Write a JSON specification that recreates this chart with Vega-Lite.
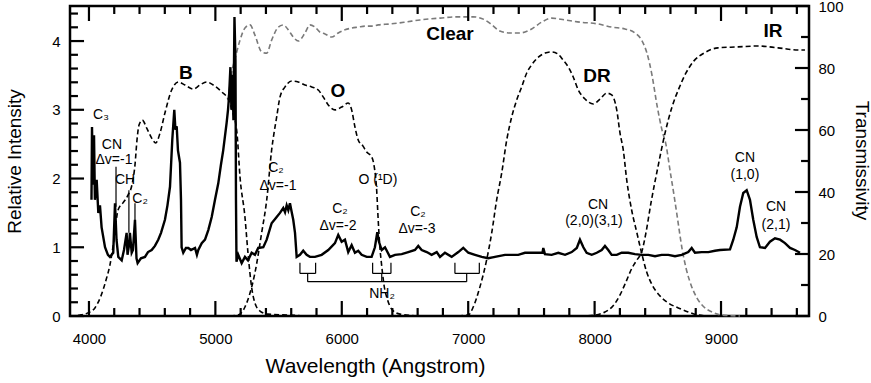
{
  "$schema": "https://vega.github.io/schema/vega-lite/v6.json",
  "width": 739,
  "height": 310,
  "autosize": {"type": "none"},
  "padding": {"left": 70, "top": 6, "right": 62, "bottom": 67},
  "background": "white",
  "config": {
    "view": {"stroke": "black", "strokeWidth": 2.5},
    "axis": {
      "domain": false, "grid": false, "ticks": false,
      "labelFont": "Liberation Sans", "labelFontSize": 15, "labelColor": "black",
      "labelOverlap": false, "labelFlush": false, "labelBound": false,
      "titleFont": "Liberation Sans", "titleFontSize": 19, "titleFontWeight": "normal", "titleColor": "black"
    },
    "text": {"font": "Liberation Sans", "fontSize": 14, "color": "black"},
    "rule": {"color": "black"}
  },
  "datasets": {
    "ticks": [
      {"w1":4000,"w2":4000,"v1":0,"v2":0.218},{"w1":4200,"w2":4200,"v1":0,"v2":0.116},{"w1":4400,"w2":4400,"v1":0,"v2":0.116},{"w1":4600,"w2":4600,"v1":0,"v2":0.116},{"w1":4800,"w2":4800,"v1":0,"v2":0.116},
      {"w1":5000,"w2":5000,"v1":0,"v2":0.218},{"w1":5200,"w2":5200,"v1":0,"v2":0.116},{"w1":5400,"w2":5400,"v1":0,"v2":0.116},{"w1":5600,"w2":5600,"v1":0,"v2":0.116},{"w1":5800,"w2":5800,"v1":0,"v2":0.116},
      {"w1":6000,"w2":6000,"v1":0,"v2":0.218},{"w1":6200,"w2":6200,"v1":0,"v2":0.116},{"w1":6400,"w2":6400,"v1":0,"v2":0.116},{"w1":6600,"w2":6600,"v1":0,"v2":0.116},{"w1":6800,"w2":6800,"v1":0,"v2":0.116},
      {"w1":7000,"w2":7000,"v1":0,"v2":0.218},{"w1":7200,"w2":7200,"v1":0,"v2":0.116},{"w1":7400,"w2":7400,"v1":0,"v2":0.116},{"w1":7600,"w2":7600,"v1":0,"v2":0.116},{"w1":7800,"w2":7800,"v1":0,"v2":0.116},
      {"w1":8000,"w2":8000,"v1":0,"v2":0.218},{"w1":8200,"w2":8200,"v1":0,"v2":0.116},{"w1":8400,"w2":8400,"v1":0,"v2":0.116},{"w1":8600,"w2":8600,"v1":0,"v2":0.116},{"w1":8800,"w2":8800,"v1":0,"v2":0.116},
      {"w1":9000,"w2":9000,"v1":0,"v2":0.218},{"w1":9200,"w2":9200,"v1":0,"v2":0.116},{"w1":9400,"w2":9400,"v1":0,"v2":0.116},{"w1":9600,"w2":9600,"v1":0,"v2":0.116},
      {"w1":4000,"w2":4000,"v1":4.51,"v2":4.292},{"w1":4200,"w2":4200,"v1":4.51,"v2":4.394},{"w1":4400,"w2":4400,"v1":4.51,"v2":4.394},{"w1":4600,"w2":4600,"v1":4.51,"v2":4.394},{"w1":4800,"w2":4800,"v1":4.51,"v2":4.394},
      {"w1":5000,"w2":5000,"v1":4.51,"v2":4.292},{"w1":5200,"w2":5200,"v1":4.51,"v2":4.394},{"w1":5400,"w2":5400,"v1":4.51,"v2":4.394},{"w1":5600,"w2":5600,"v1":4.51,"v2":4.394},{"w1":5800,"w2":5800,"v1":4.51,"v2":4.394},
      {"w1":6000,"w2":6000,"v1":4.51,"v2":4.292},{"w1":6200,"w2":6200,"v1":4.51,"v2":4.394},{"w1":6400,"w2":6400,"v1":4.51,"v2":4.394},{"w1":6600,"w2":6600,"v1":4.51,"v2":4.394},{"w1":6800,"w2":6800,"v1":4.51,"v2":4.394},
      {"w1":7000,"w2":7000,"v1":4.51,"v2":4.292},{"w1":7200,"w2":7200,"v1":4.51,"v2":4.394},{"w1":7400,"w2":7400,"v1":4.51,"v2":4.394},{"w1":7600,"w2":7600,"v1":4.51,"v2":4.394},{"w1":7800,"w2":7800,"v1":4.51,"v2":4.394},
      {"w1":8000,"w2":8000,"v1":4.51,"v2":4.292},{"w1":8200,"w2":8200,"v1":4.51,"v2":4.394},{"w1":8400,"w2":8400,"v1":4.51,"v2":4.394},{"w1":8600,"w2":8600,"v1":4.51,"v2":4.394},{"w1":8800,"w2":8800,"v1":4.51,"v2":4.394},
      {"w1":9000,"w2":9000,"v1":4.51,"v2":4.292},{"w1":9200,"w2":9200,"v1":4.51,"v2":4.394},{"w1":9400,"w2":9400,"v1":4.51,"v2":4.394},{"w1":9600,"w2":9600,"v1":4.51,"v2":4.394},
      {"w1":3850,"w2":3961,"v1":0,"v2":0},{"w1":3850,"w2":3913,"v1":0.2,"v2":0.2},{"w1":3850,"w2":3913,"v1":0.4,"v2":0.4},{"w1":3850,"w2":3913,"v1":0.6,"v2":0.6},{"w1":3850,"w2":3913,"v1":0.8,"v2":0.8},
      {"w1":3850,"w2":3961,"v1":1,"v2":1},{"w1":3850,"w2":3913,"v1":1.2,"v2":1.2},{"w1":3850,"w2":3913,"v1":1.4,"v2":1.4},{"w1":3850,"w2":3913,"v1":1.6,"v2":1.6},{"w1":3850,"w2":3913,"v1":1.8,"v2":1.8},
      {"w1":3850,"w2":3961,"v1":2,"v2":2},{"w1":3850,"w2":3913,"v1":2.2,"v2":2.2},{"w1":3850,"w2":3913,"v1":2.4,"v2":2.4},{"w1":3850,"w2":3913,"v1":2.6,"v2":2.6},{"w1":3850,"w2":3913,"v1":2.8,"v2":2.8},
      {"w1":3850,"w2":3961,"v1":3,"v2":3},{"w1":3850,"w2":3913,"v1":3.2,"v2":3.2},{"w1":3850,"w2":3913,"v1":3.4,"v2":3.4},{"w1":3850,"w2":3913,"v1":3.6,"v2":3.6},{"w1":3850,"w2":3913,"v1":3.8,"v2":3.8},
      {"w1":3850,"w2":3961,"v1":4,"v2":4},{"w1":3850,"w2":3913,"v1":4.2,"v2":4.2},{"w1":3850,"w2":3913,"v1":4.4,"v2":4.4},
      {"w1":9585,"w2":9696,"v1":0,"v2":0},{"w1":9633,"w2":9696,"v1":0.451,"v2":0.451},{"w1":9585,"w2":9696,"v1":0.902,"v2":0.902},{"w1":9633,"w2":9696,"v1":1.353,"v2":1.353},
      {"w1":9585,"w2":9696,"v1":1.804,"v2":1.804},{"w1":9633,"w2":9696,"v1":2.255,"v2":2.255},{"w1":9585,"w2":9696,"v1":2.706,"v2":2.706},{"w1":9633,"w2":9696,"v1":3.157,"v2":3.157},
      {"w1":9585,"w2":9696,"v1":3.608,"v2":3.608},{"w1":9633,"w2":9696,"v1":4.059,"v2":4.059},{"w1":9585,"w2":9696,"v1":4.51,"v2":4.51}
    ],
    "spectrum": [
      {"w":4020,"i":1.69},{"w":4024,"i":2.75},{"w":4032,"i":1.91},{"w":4040,"i":2.63},{"w":4047,"i":1.69},{"w":4061,"i":1.98},{"w":4074,"i":1.50},{"w":4087,"i":1.61},{"w":4100,"i":1.29},{"w":4127,"i":1.00},{"w":4150,"i":0.89},{"w":4166,"i":0.86},{"w":4192,"i":0.92},{"w":4206,"i":1.64},{"w":4218,"i":1.11},{"w":4232,"i":0.86},{"w":4259,"i":0.81},{"w":4277,"i":0.96},{"w":4298,"i":1.21},{"w":4305,"i":0.89},{"w":4317,"i":1.03},{"w":4324,"i":1.21},{"w":4338,"i":0.92},{"w":4348,"i":0.96},{"w":4364,"i":1.40},{"w":4376,"i":0.84},{"w":4385,"i":0.77},{"w":4411,"i":0.84},{"w":4443,"i":0.86},{"w":4467,"i":0.93},{"w":4496,"i":0.96},{"w":4522,"i":1.02},{"w":4548,"i":1.11},{"w":4570,"i":1.21},{"w":4601,"i":1.40},{"w":4621,"i":1.61},{"w":4641,"i":1.88},{"w":4659,"i":2.56},{"w":4675,"i":3.00},{"w":4684,"i":2.71},{"w":4694,"i":2.76},{"w":4704,"i":2.41},{"w":4720,"i":2.23},{"w":4728,"i":1.69},{"w":4733,"i":1.00},{"w":4746,"i":0.92},{"w":4767,"i":0.99},{"w":4786,"i":0.99},{"w":4807,"i":0.96},{"w":4839,"i":0.99},{"w":4854,"i":0.89},{"w":4865,"i":0.96},{"w":4892,"i":1.06},{"w":4918,"i":1.11},{"w":4944,"i":1.25},{"w":4971,"i":1.44},{"w":4997,"i":1.69},{"w":5023,"i":1.93},{"w":5044,"i":2.20},{"w":5062,"i":2.41},{"w":5089,"i":2.81},{"w":5100,"i":3.00},{"w":5108,"i":3.19},{"w":5119,"i":3.62},{"w":5127,"i":3.00},{"w":5135,"i":3.51},{"w":5143,"i":2.85},{"w":5151,"i":4.35},{"w":5159,"i":3.72},{"w":5163,"i":1.69},{"w":5167,"i":0.79},{"w":5181,"i":0.89},{"w":5208,"i":0.77},{"w":5234,"i":0.86},{"w":5258,"i":0.81},{"w":5287,"i":0.92},{"w":5313,"i":0.89},{"w":5339,"i":0.99},{"w":5379,"i":1.00},{"w":5406,"i":1.11},{"w":5445,"i":1.35},{"w":5485,"i":1.44},{"w":5511,"i":1.50},{"w":5537,"i":1.57},{"w":5551,"i":1.51},{"w":5564,"i":1.61},{"w":5577,"i":1.54},{"w":5590,"i":1.64},{"w":5604,"i":1.51},{"w":5616,"i":1.40},{"w":5630,"i":1.21},{"w":5643,"i":0.86},{"w":5669,"i":0.89},{"w":5695,"i":0.95},{"w":5722,"i":0.89},{"w":5748,"i":0.86},{"w":5788,"i":0.86},{"w":5841,"i":0.89},{"w":5893,"i":0.96},{"w":5946,"i":1.06},{"w":5972,"i":1.18},{"w":5999,"i":1.08},{"w":6025,"i":1.11},{"w":6051,"i":0.93},{"w":6078,"i":1.03},{"w":6104,"i":0.92},{"w":6130,"i":0.95},{"w":6157,"i":0.89},{"w":6197,"i":0.86},{"w":6236,"i":0.86},{"w":6262,"i":1.00},{"w":6281,"i":1.22},{"w":6294,"i":1.08},{"w":6316,"i":0.96},{"w":6342,"i":1.00},{"w":6381,"i":0.86},{"w":6421,"i":0.89},{"w":6474,"i":0.90},{"w":6526,"i":0.93},{"w":6579,"i":0.96},{"w":6605,"i":1.02},{"w":6632,"i":0.96},{"w":6672,"i":0.93},{"w":6711,"i":0.89},{"w":6751,"i":0.93},{"w":6777,"i":0.86},{"w":6816,"i":0.92},{"w":6869,"i":0.86},{"w":6922,"i":0.93},{"w":6961,"i":0.99},{"w":7001,"i":0.92},{"w":7054,"i":0.89},{"w":7107,"i":0.86},{"w":7159,"i":0.84},{"w":7212,"i":0.86},{"w":7291,"i":0.89},{"w":7344,"i":0.89},{"w":7396,"i":0.89},{"w":7449,"i":0.92},{"w":7502,"i":0.92},{"w":7554,"i":0.92},{"w":7588,"i":0.92},{"w":7594,"i":0.99},{"w":7607,"i":0.90},{"w":7660,"i":0.89},{"w":7713,"i":0.92},{"w":7766,"i":0.89},{"w":7819,"i":0.93},{"w":7859,"i":0.99},{"w":7884,"i":1.11},{"w":7911,"i":1.00},{"w":7937,"i":0.92},{"w":7977,"i":0.89},{"w":8017,"i":0.92},{"w":8056,"i":0.96},{"w":8082,"i":1.02},{"w":8108,"i":0.96},{"w":8135,"i":0.89},{"w":8175,"i":0.89},{"w":8214,"i":0.92},{"w":8266,"i":0.92},{"w":8319,"i":0.90},{"w":8372,"i":0.89},{"w":8425,"i":0.89},{"w":8478,"i":0.87},{"w":8530,"i":0.89},{"w":8583,"i":0.89},{"w":8636,"i":0.87},{"w":8689,"i":0.89},{"w":8741,"i":0.93},{"w":8768,"i":0.99},{"w":8794,"i":0.92},{"w":8847,"i":0.93},{"w":8900,"i":0.93},{"w":8952,"i":0.95},{"w":8992,"i":0.96},{"w":9071,"i":0.97},{"w":9097,"i":1.11},{"w":9124,"i":1.29},{"w":9150,"i":1.59},{"w":9176,"i":1.79},{"w":9203,"i":1.83},{"w":9229,"i":1.69},{"w":9255,"i":1.40},{"w":9282,"i":1.15},{"w":9308,"i":1.00},{"w":9348,"i":0.99},{"w":9387,"i":1.08},{"w":9427,"i":1.13},{"w":9467,"i":1.11},{"w":9506,"i":1.06},{"w":9546,"i":0.99},{"w":9585,"i":0.96},{"w":9625,"i":0.92}
    ],
    "filters": [
      {"f":"B","w":3850,"t":0},{"f":"B","w":3929,"t":0.3},{"f":"B","w":3992,"t":1},{"f":"B","w":4047,"t":2.6},{"f":"B","w":4095,"t":6.5},{"f":"B","w":4135,"t":11.6},{"f":"B","w":4166,"t":16.5},{"f":"B","w":4198,"t":24.5},{"f":"B","w":4230,"t":34.2},{"f":"B","w":4269,"t":36.5},{"f":"B","w":4309,"t":39},{"f":"B","w":4340,"t":42.3},{"f":"B","w":4364,"t":48.7},{"f":"B","w":4380,"t":56.8},{"f":"B","w":4396,"t":61.6},{"f":"B","w":4422,"t":63.2},{"f":"B","w":4457,"t":60.6},{"f":"B","w":4496,"t":57.4},{"f":"B","w":4528,"t":55.8},{"f":"B","w":4562,"t":59},{"f":"B","w":4601,"t":65.5},{"f":"B","w":4654,"t":72.9},{"f":"B","w":4707,"t":75.5},{"f":"B","w":4760,"t":74.5},{"f":"B","w":4825,"t":73.2},{"f":"B","w":4878,"t":74.5},{"f":"B","w":4931,"t":75.5},{"f":"B","w":4984,"t":74.5},{"f":"B","w":5050,"t":72.3},{"f":"B","w":5100,"t":70},{"f":"B","w":5139,"t":65.5},{"f":"B","w":5171,"t":59},{"f":"B","w":5195,"t":44.8},{"f":"B","w":5234,"t":31.9},{"f":"B","w":5258,"t":20.3},{"f":"B","w":5290,"t":8.4},{"f":"B","w":5313,"t":4.2},{"f":"B","w":5353,"t":1.6},{"f":"B","w":5416,"t":0.6},{"f":"B","w":5590,"t":0.3},{"f":"B","w":5700,"t":0},
      {"f":"O","w":5115,"t":0},{"f":"O","w":5179,"t":0.3},{"f":"O","w":5234,"t":2.9},{"f":"O","w":5274,"t":7.4},{"f":"O","w":5313,"t":13.9},{"f":"O","w":5366,"t":26.8},{"f":"O","w":5406,"t":37.4},{"f":"O","w":5445,"t":53.5},{"f":"O","w":5485,"t":64.2},{"f":"O","w":5511,"t":70.6},{"f":"O","w":5551,"t":73.9},{"f":"O","w":5604,"t":75.8},{"f":"O","w":5656,"t":75.5},{"f":"O","w":5709,"t":74.5},{"f":"O","w":5762,"t":73.9},{"f":"O","w":5814,"t":72.9},{"f":"O","w":5854,"t":70.6},{"f":"O","w":5893,"t":68.1},{"f":"O","w":5946,"t":66.5},{"f":"O","w":5999,"t":67.4},{"f":"O","w":6051,"t":68.7},{"f":"O","w":6078,"t":66.5},{"f":"O","w":6104,"t":61},{"f":"O","w":6130,"t":56.8},{"f":"O","w":6168,"t":54.8},{"f":"O","w":6197,"t":52.9},{"f":"O","w":6237,"t":51.3},{"f":"O","w":6257,"t":48.1},{"f":"O","w":6276,"t":40.6},{"f":"O","w":6288,"t":31},{"f":"O","w":6300,"t":22.9},{"f":"O","w":6315,"t":16.5},{"f":"O","w":6334,"t":10},{"f":"O","w":6362,"t":5.2},{"f":"O","w":6401,"t":1.9},{"f":"O","w":6460,"t":0.6},{"f":"O","w":6620,"t":0},
      {"f":"Clear","w":5100,"t":69.7},{"f":"Clear","w":5129,"t":78.4},{"f":"Clear","w":5163,"t":84.2},{"f":"Clear","w":5195,"t":89},{"f":"Clear","w":5234,"t":92.9},{"f":"Clear","w":5274,"t":93.9},{"f":"Clear","w":5313,"t":90.6},{"f":"Clear","w":5366,"t":85.2},{"f":"Clear","w":5406,"t":84.8},{"f":"Clear","w":5445,"t":89},{"f":"Clear","w":5498,"t":93.2},{"f":"Clear","w":5537,"t":93.9},{"f":"Clear","w":5577,"t":92.3},{"f":"Clear","w":5616,"t":90},{"f":"Clear","w":5656,"t":88.7},{"f":"Clear","w":5709,"t":91.3},{"f":"Clear","w":5748,"t":93.9},{"f":"Clear","w":5788,"t":93.2},{"f":"Clear","w":5827,"t":91.6},{"f":"Clear","w":5867,"t":91},{"f":"Clear","w":5920,"t":90},{"f":"Clear","w":5972,"t":91.3},{"f":"Clear","w":6025,"t":92.3},{"f":"Clear","w":6078,"t":92.9},{"f":"Clear","w":6130,"t":93.2},{"f":"Clear","w":6183,"t":93.5},{"f":"Clear","w":6236,"t":93.5},{"f":"Clear","w":6289,"t":93.9},{"f":"Clear","w":6381,"t":94.2},{"f":"Clear","w":6500,"t":94.8},{"f":"Clear","w":6619,"t":95.5},{"f":"Clear","w":6777,"t":96.1},{"f":"Clear","w":6911,"t":96.5},{"f":"Clear","w":7038,"t":96.5},{"f":"Clear","w":7133,"t":95.5},{"f":"Clear","w":7188,"t":93.9},{"f":"Clear","w":7251,"t":91.9},{"f":"Clear","w":7330,"t":91.3},{"f":"Clear","w":7410,"t":91.3},{"f":"Clear","w":7502,"t":92.6},{"f":"Clear","w":7581,"t":94.8},{"f":"Clear","w":7660,"t":96.1},{"f":"Clear","w":7766,"t":95.5},{"f":"Clear","w":7884,"t":94.8},{"f":"Clear","w":8029,"t":94.2},{"f":"Clear","w":8135,"t":93.2},{"f":"Clear","w":8240,"t":92.6},{"f":"Clear","w":8319,"t":91.3},{"f":"Clear","w":8372,"t":89},{"f":"Clear","w":8414,"t":84.8},{"f":"Clear","w":8454,"t":77.7},{"f":"Clear","w":8493,"t":68.1},{"f":"Clear","w":8533,"t":60},{"f":"Clear","w":8565,"t":55.2},{"f":"Clear","w":8596,"t":47.1},{"f":"Clear","w":8628,"t":39},{"f":"Clear","w":8660,"t":30.3},{"f":"Clear","w":8691,"t":21.9},{"f":"Clear","w":8723,"t":15.5},{"f":"Clear","w":8763,"t":10},{"f":"Clear","w":8810,"t":5.8},{"f":"Clear","w":8865,"t":2.9},{"f":"Clear","w":8929,"t":1.3},{"f":"Clear","w":9008,"t":0.3},{"f":"Clear","w":9150,"t":0},
      {"f":"DR","w":6856,"t":0},{"f":"DR","w":7001,"t":0.3},{"f":"DR","w":7040,"t":2.9},{"f":"DR","w":7093,"t":9.4},{"f":"DR","w":7146,"t":18.1},{"f":"DR","w":7186,"t":26.8},{"f":"DR","w":7225,"t":37.4},{"f":"DR","w":7265,"t":46.1},{"f":"DR","w":7305,"t":56.8},{"f":"DR","w":7344,"t":64.2},{"f":"DR","w":7384,"t":69.7},{"f":"DR","w":7423,"t":73.9},{"f":"DR","w":7463,"t":78.4},{"f":"DR","w":7502,"t":81},{"f":"DR","w":7555,"t":83.5},{"f":"DR","w":7608,"t":84.8},{"f":"DR","w":7660,"t":85.2},{"f":"DR","w":7710,"t":84.5},{"f":"DR","w":7750,"t":82.6},{"f":"DR","w":7792,"t":80.3},{"f":"DR","w":7831,"t":77.1},{"f":"DR","w":7871,"t":72.9},{"f":"DR","w":7924,"t":70},{"f":"DR","w":7990,"t":68.4},{"f":"DR","w":8043,"t":70},{"f":"DR","w":8096,"t":71.9},{"f":"DR","w":8135,"t":71.3},{"f":"DR","w":8175,"t":66.5},{"f":"DR","w":8201,"t":59},{"f":"DR","w":8227,"t":53.5},{"f":"DR","w":8254,"t":43.9},{"f":"DR","w":8293,"t":34.2},{"f":"DR","w":8333,"t":27.1},{"f":"DR","w":8372,"t":20.3},{"f":"DR","w":8412,"t":14.2},{"f":"DR","w":8452,"t":10.3},{"f":"DR","w":8517,"t":6.5},{"f":"DR","w":8583,"t":4.2},{"f":"DR","w":8662,"t":2.6},{"f":"DR","w":8741,"t":1.3},{"f":"DR","w":8820,"t":0.3},{"f":"DR","w":8913,"t":0},
      {"f":"IR","w":7884,"t":0},{"f":"IR","w":8003,"t":0.3},{"f":"IR","w":8082,"t":1.3},{"f":"IR","w":8145,"t":3.2},{"f":"IR","w":8201,"t":6.8},{"f":"IR","w":8248,"t":11},{"f":"IR","w":8296,"t":15.5},{"f":"IR","w":8335,"t":18.1},{"f":"IR","w":8375,"t":21},{"f":"IR","w":8406,"t":26.8},{"f":"IR","w":8446,"t":36.5},{"f":"IR","w":8501,"t":48.1},{"f":"IR","w":8557,"t":59},{"f":"IR","w":8612,"t":67.4},{"f":"IR","w":8668,"t":73.5},{"f":"IR","w":8723,"t":78.4},{"f":"IR","w":8786,"t":82.3},{"f":"IR","w":8865,"t":84.8},{"f":"IR","w":8976,"t":86.5},{"f":"IR","w":9134,"t":86.8},{"f":"IR","w":9292,"t":87.1},{"f":"IR","w":9451,"t":86.5},{"f":"IR","w":9609,"t":85.8},{"f":"IR","w":9664,"t":85.8}
    ],
    "labels": [
      {"w":4095,"v":2.92,"text":"C₃"},
      {"w":4182,"v":2.49,"text":"CN"},
      {"w":4198,"v":2.27,"text":"Δv=-1"},
      {"w":4285,"v":1.98,"text":"CH"},
      {"w":4404,"v":1.70,"text":"C₂"},
      {"w":5479,"v":2.15,"text":"C₂"},
      {"w":5495,"v":1.89,"text":"Δv=-1"},
      {"w":6286,"v":1.98,"text":"O (¹D)"},
      {"w":5986,"v":1.56,"text":"C₂"},
      {"w":5970,"v":1.31,"text":"Δv=-2"},
      {"w":6603,"v":1.52,"text":"C₂"},
      {"w":6595,"v":1.27,"text":"Δv=-3"},
      {"w":8027,"v":1.61,"text":"CN"},
      {"w":7995,"v":1.38,"text":"(2,0)(3,1)"},
      {"w":9189,"v":2.30,"text":"CN"},
      {"w":9189,"v":2.05,"text":"(1,0)"},
      {"w":9435,"v":1.58,"text":"CN"},
      {"w":9435,"v":1.33,"text":"(2,1)"},
      {"w":6318,"v":0.32,"text":"NH₂"}
    ],
    "names": [
      {"w":4767,"t":78.5,"text":"B"},
      {"w":5970,"t":72.5,"text":"O"},
      {"w":6856,"t":90.9,"text":"Clear"},
      {"w":8019,"t":77.4,"text":"DR"},
      {"w":9411,"t":92,"text":"IR"}
    ],
    "rules": [
      {"w1":4214,"w2":4214,"v1":2.17,"v2":1.59},
      {"w1":4316,"w2":4316,"v1":1.83,"v2":1.21},
      {"w1":4364,"w2":4364,"v1":1.64,"v2":1.25},
      {"w1":5669,"w2":5669,"v1":0.775,"v2":0.62},
      {"w1":5793,"w2":5793,"v1":0.775,"v2":0.62},
      {"w1":5669,"w2":5793,"v1":0.62,"v2":0.62},
      {"w1":5730,"w2":5730,"v1":0.62,"v2":0.50},
      {"w1":6244,"w2":6244,"v1":0.775,"v2":0.62},
      {"w1":6389,"w2":6389,"v1":0.775,"v2":0.62},
      {"w1":6244,"w2":6389,"v1":0.62,"v2":0.62},
      {"w1":6316,"w2":6316,"v1":0.62,"v2":0.50},
      {"w1":6895,"w2":6895,"v1":0.775,"v2":0.62},
      {"w1":7088,"w2":7088,"v1":0.775,"v2":0.62},
      {"w1":6895,"w2":7088,"v1":0.62,"v2":0.62},
      {"w1":6988,"w2":6988,"v1":0.62,"v2":0.50},
      {"w1":5730,"w2":6988,"v1":0.50,"v2":0.50}
    ]
  },
  "resolve": {"scale": {"y": "independent"}, "axis": {"x": "independent", "y": "independent"}},
  "layer": [
    {
      "data": {"name": "filters"},
      "mark": {"type": "line", "strokeWidth": 1.6, "strokeDash": [5, 3], "interpolate": "monotone"},
      "encoding": {
        "x": {"field": "w", "type": "quantitative", "scale": {"domain": [3850, 9696], "nice": false, "zero": false}, "axis": null},
        "y": {"field": "t", "type": "quantitative", "scale": {"domain": [0, 100], "nice": false},
          "axis": {"orient": "right", "values": [0,20,40,60,80,100], "labelPadding": 9, "format": "d",
            "title": "Transmissivity", "titleAngle": 90, "titleX": 52, "titleY": 154, "titleBaseline": "middle", "titleAlign": "center"}},
        "color": {"field": "f", "type": "nominal", "scale": {"domain": ["B","O","Clear","DR","IR"], "range": ["black","black","#7a7a7a","black","black"]}, "legend": null}
      }
    },
    {
      "data": {"name": "spectrum"},
      "mark": {"type": "line", "strokeWidth": 2.4, "color": "black"},
      "encoding": {
        "x": {"field": "w", "type": "quantitative", "scale": {"domain": [3850, 9696], "nice": false, "zero": false},
          "axis": {"orient": "bottom", "values": [4000,5000,6000,7000,8000,9000], "labelPadding": 15, "format": "d",
            "title": "Wavelength (Angstrom)", "titleFontSize": 21, "titleX": 305, "titleY": 50, "titleBaseline": "middle", "titleAlign": "center"}},
        "y": {"field": "i", "type": "quantitative", "scale": {"domain": [0, 4.51], "nice": false},
          "axis": {"orient": "left", "values": [0,1,2,3,4], "labelPadding": 10, "format": "d",
            "title": "Relative Intensity", "titleAngle": 270, "titleX": -56, "titleY": 155, "titleBaseline": "middle", "titleAlign": "center"}}
      }
    },
    {
      "data": {"name": "rules"},
      "mark": {"type": "rule", "strokeWidth": 1.2},
      "encoding": {
        "x": {"field": "w1", "type": "quantitative", "scale": {"domain": [3850, 9696], "nice": false, "zero": false}, "axis": null},
        "x2": {"field": "w2"},
        "y": {"field": "v1", "type": "quantitative", "scale": {"domain": [0, 4.51], "nice": false}, "axis": null},
        "y2": {"field": "v2"}
      }
    },
    {
      "data": {"name": "ticks"},
      "mark": {"type": "rule", "strokeWidth": 2.2},
      "encoding": {
        "x": {"field": "w1", "type": "quantitative", "scale": {"domain": [3850, 9696], "nice": false, "zero": false}, "axis": null},
        "x2": {"field": "w2"},
        "y": {"field": "v1", "type": "quantitative", "scale": {"domain": [0, 4.51], "nice": false}, "axis": null},
        "y2": {"field": "v2"}
      }
    },
    {
      "data": {"name": "labels"},
      "mark": {"type": "text", "fontSize": 14, "align": "center", "baseline": "middle"},
      "encoding": {
        "x": {"field": "w", "type": "quantitative", "scale": {"domain": [3850, 9696], "nice": false, "zero": false}, "axis": null},
        "y": {"field": "v", "type": "quantitative", "scale": {"domain": [0, 4.51], "nice": false}, "axis": null},
        "text": {"field": "text"}
      }
    },
    {
      "data": {"name": "names"},
      "mark": {"type": "text", "fontSize": 19, "fontWeight": "bold", "align": "center", "baseline": "middle"},
      "encoding": {
        "x": {"field": "w", "type": "quantitative", "scale": {"domain": [3850, 9696], "nice": false, "zero": false}, "axis": null},
        "y": {"field": "t", "type": "quantitative", "scale": {"domain": [0, 100], "nice": false}, "axis": null},
        "text": {"field": "text"}
      }
    }
  ]
}
